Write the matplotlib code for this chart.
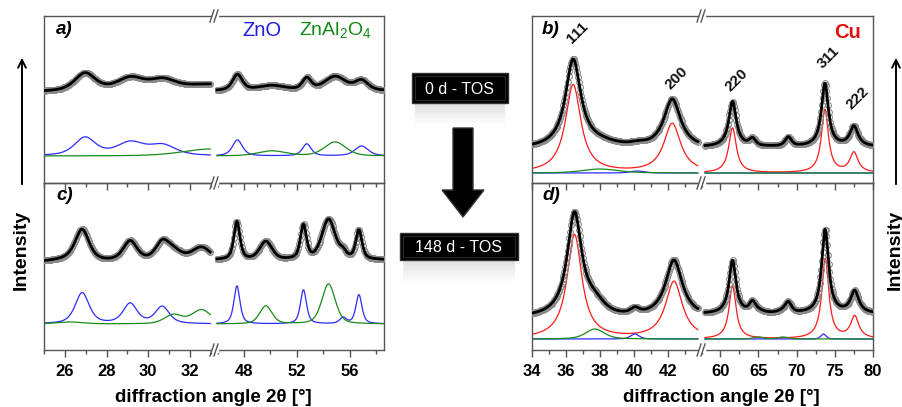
import numpy as np
import matplotlib.pyplot as plt
from matplotlib.patches import Rectangle, Polygon
from matplotlib.ticker import MultipleLocator

plt.rcParams['font.family'] = ['Liberation Sans', 'DejaVu Sans']
plt.rcParams['mathtext.fontset'] = 'custom'
plt.rcParams['mathtext.rm'] = 'Liberation Sans'

# peak tables: (position [deg 2theta], height, FWHM [deg])
# panel a) ZnO/ZnAl2O4 region, 0 d TOS
a_zno = [(26.97, 18, 1.2), (29.15, 13, 1.6), (30.7, 10, 1.5),
         (47.5, 16, 0.9), (52.75, 12, 0.8), (56.9, 10, 1.2)]
a_spinel = [(33.0, 7, 3.2), (50.1, 5, 2.5), (54.9, 14, 1.9)]
a_extra = []
a_base, a_offset = 27, (91, 92)

# panel c) same region, 148 d TOS
c_zno = [(26.83, 31, 0.8), (29.13, 20, 0.8), (30.67, 17, 0.8),
         (47.46, 38, 0.55), (52.5, 34, 0.55), (55.5, 6, 0.6), (56.7, 29, 0.55)]
c_spinel = [(26.2, 2, 1.5), (31.2, 9, 1.0), (32.55, 14, 1.1),
            (49.65, 18, 1.1), (54.4, 40, 1.2)]
c_extra = []
c_base, c_offset = 26, (88, 90)

# panel b) Cu region, 0 d TOS
b_cu = [(36.42, 88, 1.1), (42.25, 49, 1.2), (61.6, 45, 1.2), (73.7, 63, 1.1), (77.5, 20, 1.3)]
b_zno = [(40.2, 2, 1.0)]
b_spinel = [(38.0, 4, 2.5)]
b_extra = [(64.2, 7, 1.0), (68.9, 9, 1.0)]
b_base, b_offset = 10, (34, 36)

# panel d) Cu region, 148 d TOS
d_cu = [(36.5, 104, 1.05), (42.35, 57, 1.2), (61.6, 53, 1.1), (73.75, 80, 1.1), (77.6, 22, 1.3)]
d_zno = [(40.05, 5, 0.6), (73.5, 5, 0.8)]
d_spinel = [(37.7, 10, 1.3), (65.0, 2, 1.5), (68.2, 2, 1.5)]
d_extra = [(64.2, 10, 1.0), (68.9, 10, 1.0)]
d_base, d_offset = 11, (32, 36)

cu_labels = ['111', '200', '220', '311', '222']
cu_label_pos = [(36.42, 33), (42.25, 78), (61.6, 80), (73.7, 57), (77.5, 98)]  # peak, pixel y

zn_xt_left, zn_xt_right = [26, 28, 30, 32], [48, 52, 56]
cu_xt_left, cu_xt_right = [34, 36, 38, 40, 42], [60, 65, 70, 75, 80]


def pv(x, peaks, eta=0.7):
    y = np.zeros_like(x)
    for pos, h, w in peaks:
        g = np.exp(-4 * np.log(2) * ((x - pos) / w) ** 2)
        l = 1 / (1 + 4 * ((x - pos) / w) ** 2)
        y += h * (eta * l + (1 - eta) * g)
    return y


W, H = 903, 407
fig = plt.figure(figsize=(W / 100, H / 100), dpi=100)


def axbox(x0, x1, y0, y1):
    return [x0 / W, 1 - y1 / H, (x1 - x0) / W, (y1 - y0) / H]


BLUE, GREEN, RED = '#2b2bff', '#1a8a1a', '#ff1a1a'
SPINE = '#555555'


def panel(xcols, yrow, lims, data_rng, steps, comps, extra, base, offset, bottom, ticks):
    axes = []
    for i in range(2):
        ax = fig.add_axes(axbox(xcols[i], xcols[i + 1], *yrow))
        ax.patch.set_visible(False)
        lo, hi = data_rng[i]
        x = np.arange(lo, hi, 0.01)
        total = np.zeros_like(x)
        for peaks, col, eta in comps:
            comp = pv(x, peaks, eta)
            total += comp
            ax.plot(x, base + comp, color=col, lw=0.9, zorder=2)
        total += pv(x, extra)
        xs = np.arange(lo, hi, steps[i])
        ys = np.interp(xs, x, total) + offset[i]
        ax.plot(xs, ys, 'o', ms=4.2, mfc='none', mec='#8a8a8a', mew=0.8, zorder=3)
        ax.plot(x, total + offset[i], color='black', lw=2.0, zorder=4)
        ax.set_xlim(*lims[i])
        ax.set_ylim(0, 167)
        ax.set_yticks([])
        ax.spines['right' if i == 0 else 'left'].set_visible(False)
        for s in ax.spines.values():
            s.set_color(SPINE)
            s.set_linewidth(1.0)
        major, minor = ticks[i]
        ax.set_xticks(major)
        ax.set_xticklabels([str(m) for m in major], fontweight='bold', fontsize=12)
        ax.xaxis.set_minor_locator(MultipleLocator(minor))
        ax.tick_params(axis='x', which='major', direction='out', length=5, width=1,
                       color=SPINE, pad=5, labelbottom=bottom)
        ax.tick_params(axis='x', which='minor', direction='out', length=3, width=1, color=SPINE)
        axes.append(ax)
    return axes


TOP, MID, BOT = 16, 183, 350
zl, zr = (44, 215, 384), (532, 702, 873)

zn_comps = lambda zno, sp: [(zno, BLUE, 0.6), (sp, GREEN, 0.4)]
cu_comps = lambda cu, zno, sp: [(cu, RED, 1.0), (zno, BLUE, 0.5), (sp, GREEN, 0.5)]

panel(zl, (TOP, MID), [(25, 33.2), (45.8, 58.6)], [(25, 32.98), (45.95, 58.6)], (0.05, 0.07),
      zn_comps(a_zno, a_spinel), a_extra, a_base, a_offset, False,
      [(zn_xt_left, 1), (zn_xt_right, 1)])
panel(zl, (MID, BOT), [(25, 33.2), (45.8, 58.6)], [(25, 32.98), (45.95, 58.6)], (0.05, 0.07),
      zn_comps(c_zno, c_spinel), c_extra, c_base, c_offset, True,
      [(zn_xt_left, 1), (zn_xt_right, 2)])
axb = panel(zr, (TOP, MID), [(34, 44), (57.6, 80)], [(34, 43.76), (58.0, 80)], (0.05, 0.1),
            cu_comps(b_cu, b_zno, b_spinel), b_extra, b_base, b_offset, False,
            [(cu_xt_left, 1), (cu_xt_right, 2.5)])
panel(zr, (MID, BOT), [(34, 44), (57.6, 80)], [(34, 43.76), (58.0, 80)], (0.05, 0.1),
      cu_comps(d_cu, d_zno, d_spinel), d_extra, d_base, d_offset, True,
      [(cu_xt_left, 1), (cu_xt_right, 2.5)])

# overlay in pixel coordinates for annotations
ov = fig.add_axes([0, 0, 1, 1], zorder=10)
ov.set_xlim(0, W)
ov.set_ylim(H, 0)
ov.axis('off')

# break marks
for bx in (215, 702):
    for by in (TOP, MID, BOT):
        ov.add_patch(Rectangle((bx - 3, by - 1.5), 6, 3, color='white', zorder=1))
        for dx in (-3, 1):
            ov.plot([bx + dx - 2, bx + dx + 2], [by + 6, by - 6], color=SPINE, lw=1, zorder=2)

# Cu reflection labels
for lab, (pos, py) in zip(cu_labels, cu_label_pos):
    ax = axb[0] if pos < 50 else axb[1]
    px = ax.transData.transform((pos, 0))[0]
    ov.text(px + 4, py, lab, rotation=45, ha='center', va='center',
            fontsize=11, fontweight='bold', color='#111111')

# panel letters and phase labels
for txt, x, y in [('a)', 56, 29), ('c)', 56, 196), ('b)', 542, 29), ('d)', 542, 196)]:
    ov.text(x, y, txt, fontsize=13.5, fontweight='bold', style='italic', va='center')
ov.text(242, 30, 'ZnO', color='#1f1fe0', fontsize=14.5, va='center')
ov.text(299, 30, r'ZnAl$\mathregular{_2}$O$\mathregular{_4}$', color='#138a13', fontsize=14, va='center')
ov.text(834, 32, 'Cu', color='#e01010', fontsize=14.5, fontweight='bold', va='center')

# axis titles
ov.text(213, 397, 'diffraction angle 2θ [°]', ha='center', va='center', fontsize=13.5, fontweight='bold')
ov.text(721, 397, 'diffraction angle 2θ [°]', ha='center', va='center', fontsize=13.5, fontweight='bold')
for ix in (21, 895):
    ov.text(ix, 250, 'Intensity', rotation=90, ha='center', va='center', fontsize=14, fontweight='bold')
    ov.annotate('', xy=(ix + 1, 55), xytext=(ix + 1, 187),
                arrowprops=dict(arrowstyle='->', lw=1.4, color='black', mutation_scale=14))

# centre boxes and arrow
for (x0, y0, x1, y1, txt) in [(412, 73, 508, 103, '0 d - TOS'), (400, 233, 518, 260, '148 d - TOS')]:
    for k in range(8):
        ov.add_patch(Rectangle((x0 + 3, y1 + 1 + k * 2.5), x1 - x0 - 6, 2.5,
                               color='#b0b0b0', alpha=0.35 * (1 - k / 8), lw=0))
    ov.add_patch(Rectangle((x0, y0), x1 - x0, y1 - y0, facecolor='black', edgecolor='#333333', lw=1))
    ov.add_patch(Rectangle((x0 + 3, y0 + 3), x1 - x0 - 6, y1 - y0 - 6, facecolor='none',
                           edgecolor='#2a2a2a', lw=0.8))
    ov.text((x0 + x1) / 2, (y0 + y1) / 2 + 1, txt, color='white', ha='center', va='center', fontsize=11.5)

ov.add_patch(Polygon([(453, 128), (473, 128), (473, 190), (484, 190), (463, 217), (442, 190), (453, 190)],
                     closed=True, facecolor='black', edgecolor='#333333', lw=1))

fig.savefig('out.png', dpi=100)
